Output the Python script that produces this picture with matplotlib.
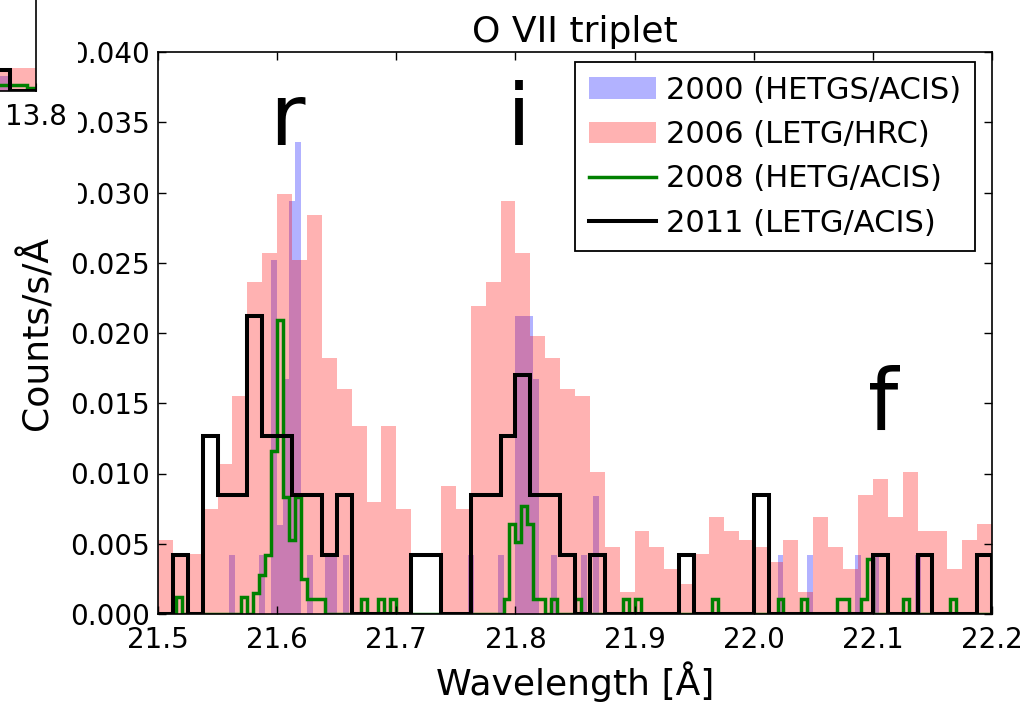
import numpy as np
import matplotlib
matplotlib.use("Agg")
import matplotlib.pyplot as plt
from matplotlib.patches import Patch, Rectangle
from matplotlib.lines import Line2D

plt.rcParams["font.family"] = "DejaVu Sans"

# 2006 LETG/HRC, bins of 0.0125 A from 21.5 to 22.2 (counts/s/A)
pink_rate = [0.0053, 0.0043, 0.0043, 0.0075, 0.0107, 0.0155, 0.0236, 0.0257,
             0.0299, 0.0252, 0.0284, 0.0182, 0.0160, 0.0134, 0.0080, 0.0134,
             0.0075, 0.0, 0.0, 0.0091, 0.0075, 0.0219, 0.0236, 0.0294,
             0.0257, 0.0198, 0.0182, 0.0160, 0.0155, 0.0101, 0.0048, 0.0016,
             0.0059, 0.0048, 0.0032, 0.0021, 0.0043, 0.0069, 0.0059, 0.0053,
             0.0048, 0.0037, 0.0053, 0.0016, 0.0069, 0.0048, 0.0032, 0.0085,
             0.0096, 0.0069, 0.0101, 0.0059, 0.0059, 0.0032, 0.0053, 0.0064]

# 2011 LETG/ACIS, same 0.0125 A bins
black_rate = [0.0, 0.0042, 0.0, 0.0127, 0.0085, 0.0085, 0.0212, 0.0127,
              0.0127, 0.0085, 0.0085, 0.0042, 0.0085, 0.0, 0.0, 0.0,
              0.0, 0.0042, 0.0042, 0.0, 0.0, 0.0085, 0.0085, 0.0127,
              0.0170, 0.0085, 0.0085, 0.0042, 0.0, 0.0042, 0.0, 0.0,
              0.0, 0.0, 0.0, 0.0042, 0.0, 0.0, 0.0, 0.0,
              0.0085, 0.0, 0.0, 0.0, 0.0, 0.0, 0.0, 0.0,
              0.0042, 0.0, 0.0, 0.0042, 0.0, 0.0, 0.0, 0.0042]

# 2000 HETGS/ACIS, 0.005 A bins: start wavelength of non-empty bins and rate
blue_start = [21.560, 21.585, 21.595, 21.600, 21.605, 21.610, 21.615, 21.625,
              21.640, 21.645, 21.655, 21.760, 21.785, 21.800, 21.805, 21.810,
              21.815, 21.830, 21.855, 21.865, 22.020, 22.045, 22.085, 22.100,
              22.135]
blue_rate = [0.0042, 0.0042, 0.0252, 0.0063, 0.0167, 0.0294, 0.0336, 0.0042,
             0.0042, 0.0042, 0.0042, 0.0042, 0.0042, 0.0212, 0.0212, 0.0212,
             0.0167, 0.0042, 0.0042, 0.0084, 0.0042, 0.0042, 0.0042, 0.0042,
             0.0042]

# 2008 HETG/ACIS, 0.005 A bins: start wavelength of non-empty bins and rate
green_start = [21.515, 21.570, 21.580, 21.585, 21.590, 21.595, 21.600, 21.605,
               21.610, 21.615, 21.620, 21.625, 21.630, 21.635, 21.670, 21.685,
               21.695, 21.790, 21.795, 21.800, 21.805, 21.810, 21.815, 21.820,
               21.830, 21.850, 21.890, 21.900, 21.965, 22.020, 22.040, 22.070,
               22.075, 22.090, 22.095, 22.125, 22.165]
green_rate = [0.0012, 0.0012, 0.0015, 0.0028, 0.0042, 0.0116, 0.0209, 0.0083,
              0.0053, 0.0083, 0.0025, 0.0011, 0.0011, 0.0011, 0.0011, 0.0011,
              0.0011, 0.0011, 0.0064, 0.0051, 0.0077, 0.0064, 0.0011, 0.0011,
              0.0011, 0.0011, 0.0011, 0.0011, 0.0011, 0.0011, 0.0011, 0.0011,
              0.0011, 0.0011, 0.0039, 0.0011, 0.0011]

labels = ["2000 (HETGS/ACIS)", "2006 (LETG/HRC)", "2008 (HETG/ACIS)", "2011 (LETG/ACIS)"]

# neighbouring panel (only its lower right corner is in the picture)
side_edges = [13.70, 13.764, 13.766, 13.788, 13.797, 13.80]
side_pink = [0.0032, 0.0032, 0.0032, 0.0032, 0.0032]
side_blue = [0.0021, 0.0, 0.0, 0.0, 0.0]
side_black = [0.0029, 0.0029, 0.0, 0.0, 0.0]
side_green = [0.0008, 0.0008, 0.0008, 0.00035, 0.0]

W, H = 1029, 706
fig = plt.figure(figsize=(W / 100, H / 100), dpi=100)
ax = fig.add_axes([158 / W, 92 / H, 834 / W, 562 / H])

coarse = np.linspace(21.5, 22.2, 57)
fine = np.linspace(21.5, 22.2, 141)


def on_fine(starts, rates):
    vals = np.zeros(len(fine) - 1)
    idx = np.round((np.array(starts) - 21.5) / 0.005).astype(int)
    vals[idx] = rates
    return vals


GREEN_LW, BLACK_LW = 2.5, 2.9

ax.stairs(on_fine(blue_start, blue_rate), fine, fill=True, color="blue", alpha=0.3, lw=0)
ax.stairs(pink_rate, coarse, fill=True, color="red", alpha=0.3, lw=0)
ax.stairs(on_fine(green_start, green_rate), fine, color="green", lw=GREEN_LW)
ax.stairs(black_rate, coarse, color="black", lw=BLACK_LW)

ax.set_xlim(21.5, 22.2)
ax.set_ylim(0, 0.04)
ax.set_xticks(np.arange(21.5, 22.25, 0.1))
ax.set_xticklabels([f"{v:.1f}" for v in np.arange(21.5, 22.25, 0.1)])
ax.set_yticks(np.arange(0, 0.0401, 0.005))
ax.set_yticklabels([f"{v:.3f}" for v in np.arange(0, 0.0401, 0.005)])
ax.tick_params(direction="in", top=True, right=True, length=6, width=1, labelsize=20)
ax.tick_params(axis="x", pad=9)
ax.tick_params(axis="y", pad=6)
for s in ax.spines.values():
    s.set_linewidth(1.2)

ax.set_xlabel("Wavelength [Å]", fontsize=26, labelpad=5)
ax.set_ylabel("Counts/s/Å", fontsize=26, labelpad=11)
ax.set_title("O VII triplet", fontsize=26, pad=7)

for lab, x, y in [("r", 21.608, 0.0334), ("i", 21.8032, 0.0334), ("f", 22.109, 0.0131)]:
    ax.text(x, y, lab, fontsize=62, ha="center", va="baseline")

handles = [Patch(facecolor="blue", alpha=0.3, edgecolor="none"),
           Patch(facecolor="red", alpha=0.3, edgecolor="none"),
           Line2D([], [], color="green", lw=GREEN_LW),
           Line2D([], [], color="black", lw=BLACK_LW)]
leg = ax.legend(handles, labels, loc="upper right", bbox_to_anchor=(0.98, 0.982),
                borderaxespad=0, fontsize=22, handlelength=2.2, handletextpad=0.35,
                labelspacing=0.5, borderpad=0.45, fancybox=False, framealpha=1,
                edgecolor="black")
leg.get_frame().set_linewidth(1.3)

# the left edge of the picture is covered by the neighbouring panel
fig.add_artist(Rectangle((0, 1 - 225 / H), 78 / W, 225 / H, transform=fig.transFigure,
                         facecolor="white", edgecolor="none", zorder=2))

ax2 = fig.add_axes([36 / W - 0.3, 1 - 90.7 / H, 0.3, 0.4])
ax2.set_zorder(3)
ax2.stairs(side_blue, side_edges, fill=True, color="blue", alpha=0.3, lw=0)
ax2.stairs(side_pink, side_edges, fill=True, color="red", alpha=0.3, lw=0)
ax2.stairs(side_green, side_edges, color="green", lw=GREEN_LW)
ax2.stairs(side_black, side_edges, color="black", lw=BLACK_LW)
ax2.set_xlim(13.4, 13.8)
ax2.set_ylim(0, 0.04)
ax2.set_xticks([13.8])
ax2.set_xticklabels(["13.8"])
ax2.set_yticks([])
ax2.tick_params(direction="in", length=6, labelsize=20, pad=9)
for s in ax2.spines.values():
    s.set_linewidth(1.2)

fig.savefig("out.png", dpi=100)
